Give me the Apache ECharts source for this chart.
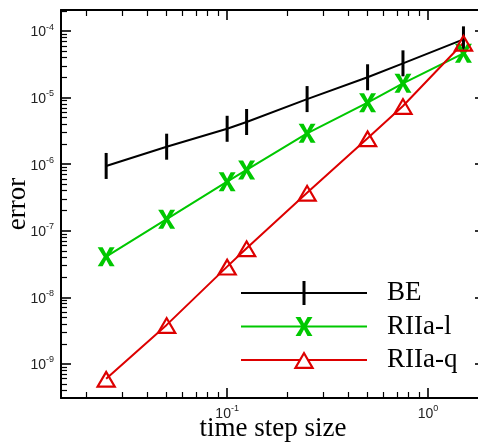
<!DOCTYPE html>
<html><head><meta charset="utf-8">
<script src="https://cdn.jsdelivr.net/npm/echarts@6/dist/echarts.min.js"></script>
<style>html,body{margin:0;padding:0;background:#fff}#c{width:478px;height:443px}</style>
</head><body><div id="c"></div>
<script>
// ---- data ----
const steps = [0.025, 0.05, 0.1, 0.125, 0.25, 0.5, 0.75, 1.5];
const seriesNames = ['BE', 'RIIa-l', 'RIIa-q'];
const beErr   = [9.4e-7, 1.83e-6, 3.4e-6, 4.3e-6, 9.5e-6, 2.02e-5, 3.27e-5, 7.5e-5];
const riiaLErr = [4.08e-8, 1.49e-7, 5.46e-7, 8.19e-7, 2.91e-6, 8.4e-6, 1.64e-5, 4.62e-5];
const riiaQErr = [5.96e-10, 3.85e-9, 2.89e-8, 5.46e-8, 3.73e-7, 2.45e-6, 7.48e-6, 6.68e-5];
const xMajorTicks = [0.1, 1];
const yMajorTicks = [1e-9, 1e-8, 1e-7, 1e-6, 1e-5, 1e-4];
const xTitle = 'time step size';
const yTitle = 'error';

// ---- layout / style ----
const X_MIN = 0.0149, X_MAX = 1.92;
const Y_MIN = 3.07e-10, Y_MAX = 2.07e-4;
const C_BE = '#000000', C_L = '#00c800', C_Q = '#dd0000';

function minorTicks(e0, e1, lo, hi) {
  const out = [];
  for (let e = e0; e <= e1; e++) for (let k = 2; k <= 9; k++) {
    const v = +(k * Math.pow(10, e)).toPrecision(6);
    if (v >= lo && v <= hi) out.push(v);
  }
  return out;
}
const xMinor = minorTicks(-2, 0, X_MIN, X_MAX);
const yMinor = minorTicks(-10, -4, Y_MIN, Y_MAX);

const fmt = v => '{b|10}{s|' + Math.round(Math.log10(v)) + '}';
const richLbl = {
  b: {fontSize: 14, fontFamily: 'Liberation Sans, Arial, sans-serif', color: '#222', lineHeight: 17, verticalAlign: 'bottom'},
  s: {fontSize: 9, fontFamily: 'Liberation Sans, Arial, sans-serif', color: '#222', lineHeight: 9, verticalAlign: 'top'}
};
const serif = 'Liberation Serif, Times New Roman, serif';
const lineAx = {color: '#000', width: 2};
const tickMaj = {color: '#000', width: 1.6};
const tickMin = {color: '#000', width: 1.2};

function ax(pos, ticks, len, showLine, extra, min, max) {
  return Object.assign({
    type: 'log', logBase: 10, position: pos, min: min, max: max,
    axisLine: {show: showLine, onZero: false, lineStyle: lineAx},
    axisTick: {show: true, inside: true, length: len, customValues: ticks, lineStyle: len > 8 ? tickMaj : tickMin},
    axisLabel: {show: false},
    splitLine: {show: false}, minorTick: {show: false}, minorSplitLine: {show: false}
  }, extra || {});
}

const xAxes = [
  ax('bottom', xMajorTicks, 10, true, {
    axisLabel: {show: true, customValues: xMajorTicks, formatter: fmt, rich: richLbl, margin: 6},
    name: xTitle, nameLocation: 'middle', nameGap: 17, nameMoveOverlap: false,
    nameTextStyle: {fontFamily: serif, fontSize: 27, color: '#000'}
  }, X_MIN, X_MAX),
  ax('bottom', xMinor, 6, false, null, X_MIN, X_MAX),
  ax('top', xMajorTicks, 10, true, null, X_MIN, X_MAX),
  ax('top', xMinor, 6, false, null, X_MIN, X_MAX)
];
const yAxes = [
  ax('left', yMajorTicks, 10, true, {
    axisLabel: {show: true, customValues: yMajorTicks, formatter: fmt, rich: richLbl, margin: 7},
    name: yTitle, nameLocation: 'middle', nameGap: 30, nameRotate: 90, nameMoveOverlap: false,
    nameTextStyle: {fontFamily: serif, fontSize: 27, color: '#000'}
  }, Y_MIN, Y_MAX),
  ax('left', yMinor, 6, false, null, Y_MIN, Y_MAX),
  ax('right', yMajorTicks, 10, true, null, Y_MIN, Y_MAX),
  ax('right', yMinor, 6, false, null, Y_MIN, Y_MAX)
];

// symbol shapes
const X_PATH = 'path://M0,0 L5,0 L8.5,6.5 L12,0 L17,0 L11,9.5 L17,19 L12,19 L8.5,12.5 L5,19 L0,19 L6,9.5 Z';
const TRI_PATH = 'path://M0,18 L10.5,0 L21,18 Z M3.83,15.8 L17.17,15.8 L10.5,4.37 Z';
// legend icons (line + marker), 126 x 24 px
const LEG_BE = 'path://M0,11 L126,11 L126,13 L0,13 Z M61.5,0 L64.5,0 L64.5,24 L61.5,24 Z';
const LEG_L = 'path://M0,11 L126,11 L126,13 L0,13 Z M54.5,2.5 L59.5,2.5 L63,9 L66.5,2.5 L71.5,2.5 L65.5,12 L71.5,21.5 L66.5,21.5 L63,15 L59.5,21.5 L54.5,21.5 L60.5,12 Z M0,0 L0.01,0 L0.01,0.01 Z M0,24 L0.01,24 L0.01,23.99 Z';
const LEG_Q = 'path://M0,11 L58.5,11 L58.5,13 L0,13 Z M67.5,11 L126,11 L126,13 L67.5,13 Z M52.5,21 L63,3 L73.5,21 Z M56.33,18.8 L69.67,18.8 L63,7.37 Z M0,0 L0.01,0 L0.01,0.01 Z M0,24 L0.01,24 L0.01,23.99 Z';

function pairs(ys) { return steps.map((s, i) => [s, ys[i]]); }

const chart = echarts.init(document.getElementById('c'), null, {renderer: 'canvas'});
chart.setOption({
  animation: false,
  backgroundColor: '#fff',
  grid: {left: 61, top: 10, width: 424, height: 388, containLabel: false, outerBoundsMode: 'none'},
  xAxis: xAxes,
  yAxis: yAxes,
  legend: {
    orient: 'vertical', left: 241, top: 279.5, padding: 0,
    itemWidth: 126, itemHeight: 27, itemGap: 6.5,
    itemStyle: {borderWidth: 0},
    textStyle: {fontFamily: serif, fontSize: 27, color: '#000', lineHeight: 27, padding: [0, 0, 0, 15]},
    data: [
      {name: seriesNames[0], icon: LEG_BE},
      {name: seriesNames[1], icon: LEG_L},
      {name: seriesNames[2], icon: LEG_Q}
    ]
  },
  series: [
    {name: seriesNames[0], type: 'line', data: pairs(beErr), symbol: 'rect', symbolSize: [3, 26],
     itemStyle: {color: C_BE}, lineStyle: {color: C_BE, width: 2}, emphasis: {disabled: true}},
    {name: seriesNames[1], type: 'line', data: pairs(riiaLErr), symbol: X_PATH, symbolSize: [17, 19],
     itemStyle: {color: C_L}, lineStyle: {color: C_L, width: 2}, emphasis: {disabled: true}},
    {name: seriesNames[2], type: 'line', data: pairs(riiaQErr), symbol: TRI_PATH, symbolSize: [21, 18],
     itemStyle: {color: C_Q}, lineStyle: {color: C_Q, width: 2}, emphasis: {disabled: true}}
  ]
});
</script></body></html>
